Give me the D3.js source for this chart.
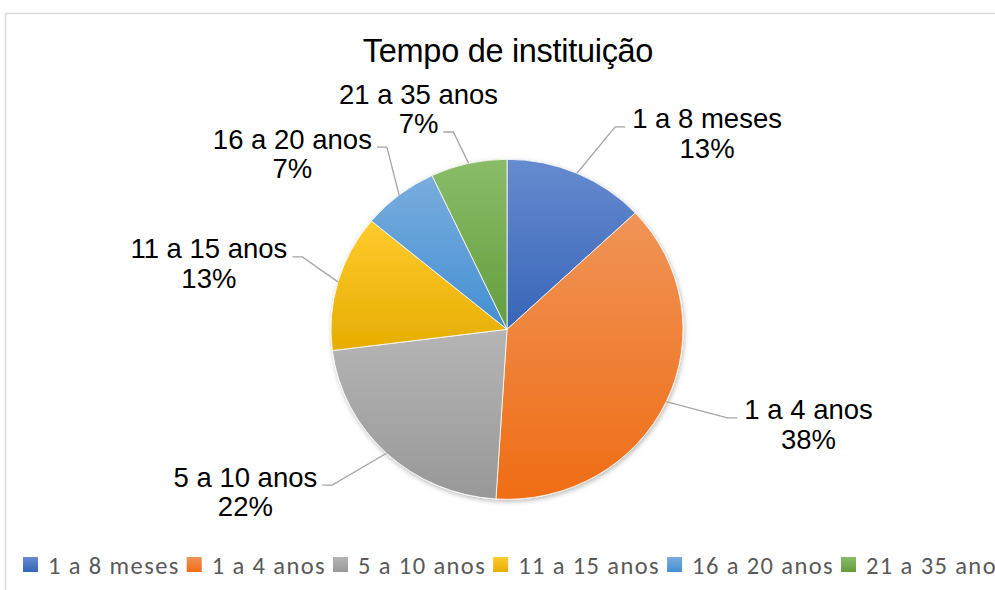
<!DOCTYPE html>
<html>
<head>
<meta charset="utf-8">
<script src="https://cdn.jsdelivr.net/npm/d3@7"></script>
<style>
  body { margin: 0; background: #fff; }
  svg { display: block; }
</style>
</head>
<body>
<div id="chart"><svg width="995" height="590"></svg></div>
<script>
// data
const categories = ["1 a 8 meses", "1 a 4 anos", "5 a 10 anos", "11 a 15 anos", "16 a 20 anos", "21 a 35 anos"];
const percents = [13, 38, 22, 13, 7, 7];
const colors = ["#4472C4", "#ED7D31", "#A5A5A5", "#FFC000", "#5B9BD5", "#70AD47"];
const chartTitle = "Tempo de instituição";

// label placement tweaks (angle shift in degrees, radius factor)
const labelNudge = [[3.9, 1.34], [-2.6, 1.356], [4.1, 1.351], [3.9, 1.238], [5.3, 1.27], [-2.1, 1.2]];

const width = 995, height = 590;
const cx = 507, cy = 329.3;
const ry = 170, rx = 176;
const sx = rx / ry;
const labelFont = "'Liberation Sans', Arial, sans-serif";
const legendFont = "Carlito, 'Open Sans', sans-serif";

const svg = d3.select("#chart").select("svg");

/***** defs: gradients + shadow *****/
const defs = svg.append("defs");
colors.forEach((c, i) => {
    let top = d3.interpolateRgb(c, "#ffffff")(0.18);
    let h = d3.hsl(c);
    h.l = h.l - 0.05;
    h.s = Math.min(1, h.s * 1.04);
    let g = defs.append("linearGradient")
        .attr("id", "grad" + i)
        .attr("x1", 0).attr("y1", 0).attr("x2", 0).attr("y2", 1);
    g.append("stop").attr("offset", "0%").attr("stop-color", top);
    g.append("stop").attr("offset", "100%").attr("stop-color", h.formatHex());
});

const shadow = defs.append("filter").attr("id", "shadow")
    .attr("x", "-10%").attr("y", "-10%").attr("width", "120%").attr("height", "120%");
shadow.append("feDropShadow")
    .attr("dx", 1).attr("dy", 2).attr("stdDeviation", 2.5)
    .attr("flood-color", "#000").attr("flood-opacity", 0.28);

/***** chart area border *****/
svg.append("rect")
    .attr("x", 5.5).attr("y", 13.5)
    .attr("width", 1000).attr("height", 600)
    .attr("fill", "#fff")
    .attr("stroke", "#d9d9d9")
    .attr("stroke-width", 1.5);

/***** title *****/
svg.append("text")
    .attr("x", 508)
    .attr("y", 61.5)
    .attr("text-anchor", "middle")
    .style("font-family", labelFont)
    .style("font-size", "32.5px")
    .style("letter-spacing", "-0.3px")
    .style("fill", "#000")
    .text(chartTitle);

/***** pie *****/
const pie = d3.pie().sort(null).value(d => d);
const arcs = pie(percents);
const arc = d3.arc().innerRadius(0).outerRadius(ry);

const plot = svg.append("g")
    .attr("transform", `translate(${cx}, ${cy}) scale(${sx}, 1)`)
    .attr("filter", "url(#shadow)");

plot.selectAll(".slice")
    .data(arcs)
    .enter()
    .append("path")
    .attr("class", "slice")
    .attr("d", arc)
    .attr("fill", (d, i) => `url(#grad${i})`)
    .attr("stroke", "#fff")
    .attr("stroke-width", 0.8)
    .attr("vector-effect", "non-scaling-stroke");

/***** data labels + leader lines *****/
const lineHeight = 29.5;
const labels = svg.append("g");

arcs.forEach((d, i) => {
    let mid = (d.startAngle + d.endAngle) / 2;
    let a = mid + labelNudge[i][0] * Math.PI / 180;
    let k = labelNudge[i][1];

    let p0 = [cx + Math.sin(mid) * rx, cy - Math.cos(mid) * ry];
    let p1 = [cx + Math.sin(a) * rx * k, cy - Math.cos(a) * ry * k];
    let right = p1[0] > cx;
    let p2 = [p1[0] + (right ? 10 : -10), p1[1]];

    labels.append("polyline")
        .attr("points", [p0, p1, p2].map(p => p.join(",")).join(" "))
        .attr("fill", "none")
        .attr("stroke", "#a6a6a6")
        .attr("stroke-width", 1.3);

    let lines = [categories[i], percents[i] + "%"];
    let attach = Math.cos(a) > 0.95 ? lines.length - 1 : 0;
    let t = labels.append("text")
        .attr("text-anchor", "middle")
        .style("font-family", labelFont)
        .style("font-size", "27.5px")
        .style("fill", "#000");
    let spans = lines.map(s => t.append("tspan").text(s));
    let w = spans[attach].node().getComputedTextLength();
    let centerX = right ? p2[0] + 7 + w / 2 : p2[0] - 5 - w / 2;
    let baseAttach = p1[1] + 1.5;
    spans.forEach((sp, j) => {
        sp.attr("x", centerX).attr("y", baseAttach + (j - attach) * lineHeight);
    });
});

/***** legend *****/
const legend = svg.append("g");
let lx = 23;
categories.forEach((c, i) => {
    legend.append("rect")
        .attr("x", lx).attr("y", 557)
        .attr("width", 15).attr("height", 15)
        .attr("fill", `url(#grad${i})`);
    let t = legend.append("text")
        .attr("x", lx + 25)
        .attr("y", 574.3)
        .style("font-family", legendFont)
        .style("font-size", "24.5px")
        .style("letter-spacing", "1.4px")
        .style("fill", "#595959")
        .text(c);
    lx = lx + 25 + t.node().getComputedTextLength() + 7;
});
</script>
</body>
</html>
